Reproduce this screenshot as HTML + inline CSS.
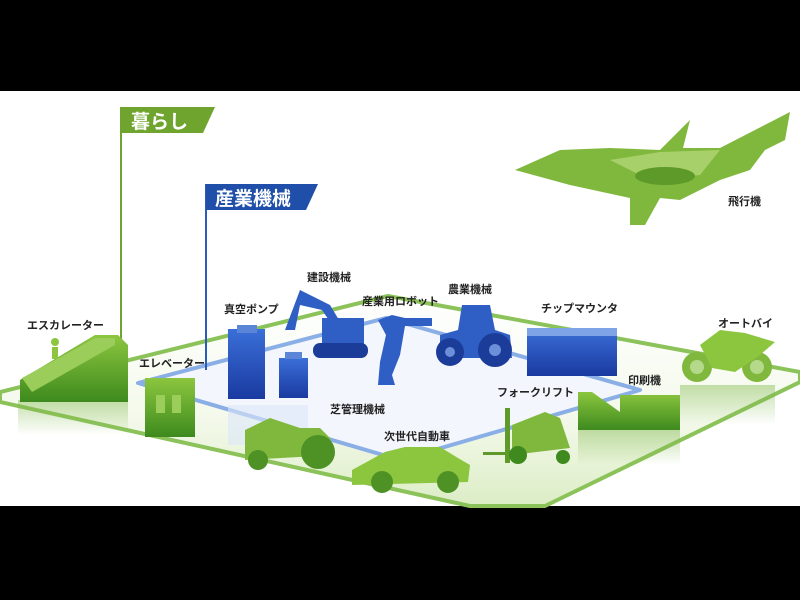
<!DOCTYPE html>
<html><head><meta charset="utf-8"><style>
html,body{margin:0;padding:0;width:800px;height:600px;overflow:hidden;background:#000}
svg text{font-family:"Liberation Sans","Noto Sans CJK JP",sans-serif;font-weight:bold}
</style></head><body>
<svg width="800" height="600" viewBox="0 0 800 600" xmlns="http://www.w3.org/2000/svg">
<defs>
<linearGradient id="gfloor" x1="0" y1="0" x2="0" y2="1">
<stop offset="0" stop-color="#ffffff"/><stop offset="0.6" stop-color="#f3f9ea"/><stop offset="1" stop-color="#dcedc5"/></linearGradient>
<linearGradient id="gg" x1="0" y1="0" x2="0" y2="1">
<stop offset="0" stop-color="#8cc63f"/><stop offset="1" stop-color="#3e8a1e"/></linearGradient>
<linearGradient id="bb" x1="0" y1="0" x2="0" y2="1">
<stop offset="0" stop-color="#3a6fd8"/><stop offset="1" stop-color="#1a3aa0"/></linearGradient>
<linearGradient id="refl" x1="0" y1="0" x2="0" y2="1">
<stop offset="0" stop-color="#7fb84a" stop-opacity="0.45"/><stop offset="1" stop-color="#7fb84a" stop-opacity="0"/></linearGradient>
</defs>
<rect x="0" y="0" width="800" height="91" fill="#000"/>
<rect x="0" y="91" width="800" height="415" fill="#fff"/>
<rect x="0" y="506" width="800" height="94" fill="#000"/>

<!-- green floor -->
<polygon points="0,392 388,296 800,372 800,382 545,506 470,506 0,402" fill="url(#gfloor)" stroke="#8cc25a" stroke-width="4" stroke-linejoin="round"/>
<!-- blue floor -->
<polygon points="138,383 386,318 640,390 400,460" fill="#f3f6fc" stroke="#8aaee6" stroke-width="4" stroke-linejoin="round"/>

<!-- banners -->
<line x1="121" y1="107" x2="121" y2="340" stroke="#6fa52f" stroke-width="2"/>
<polygon points="121,107 215,107 203,133 121,133" fill="#6fa52f"/>
<text x="131" y="128" font-size="19" fill="#fff" font-weight="normal">暮らし</text>
<line x1="206" y1="184" x2="206" y2="370" stroke="#2a5cb8" stroke-width="2"/>
<polygon points="206,184 318,184 306,210 206,210" fill="#1f4fa8"/>
<text x="215" y="205" font-size="19" fill="#fff" font-weight="normal">産業機械</text>

<!-- airplane -->
<polygon points="515,170 560,150 610,148 660,150 690,120 683,148 720,148 790,112 785,140 765,150 750,170 720,180 680,200 660,198 645,225 630,225 630,198 570,185" fill="#7fb83d"/>
<polygon points="610,160 660,152 720,150 700,175 650,180" fill="#a7d06a"/>
<ellipse cx="665" cy="176" rx="30" ry="9" fill="#5e9a2a"/>
<text x="728" y="205" font-size="11" fill="#222">飛行機</text>

<!-- escalator -->
<rect x="18" y="400" width="110" height="35" fill="url(#refl)"/>
<polygon points="20,380 95,335 118,335 128,345 128,402 20,402" fill="url(#gg)"/>
<polygon points="22,378 95,338 115,338 115,345 32,392" fill="#9acd5a"/>
<circle cx="55" cy="342" r="4" fill="#8cc63f"/><rect x="52" y="347" width="6" height="12" fill="#8cc63f"/>
<text x="27" y="329" font-size="11" fill="#222">エスカレーター</text>

<!-- elevator -->
<rect x="145" y="378" width="50" height="59" fill="url(#gg)"/>
<rect x="156" y="395" width="9" height="18" fill="#9acd5a"/><rect x="172" y="395" width="9" height="18" fill="#9acd5a"/>
<text x="139" y="367" font-size="11" fill="#222">エレベーター</text>

<!-- vacuum pumps -->
<rect x="228" y="329" width="37" height="70" fill="url(#bb)"/>
<rect x="237" y="325" width="20" height="8" fill="#5b86d8"/>
<rect x="279" y="358" width="29" height="40" fill="url(#bb)"/>
<rect x="285" y="352" width="17" height="7" fill="#5b86d8"/>
<rect x="228" y="405" width="80" height="40" fill="#dce6f8" opacity="0.6"/>
<text x="224" y="313" font-size="11" fill="#222">真空ポンプ</text>

<!-- excavator -->
<polygon points="285,330 300,290 330,305 345,330 337,332 322,310 300,305 295,330" fill="#2f5fc4"/>
<rect x="322" y="318" width="42" height="28" fill="#2f5fc4"/>
<rect x="313" y="343" width="55" height="15" rx="7" fill="#1c3c9a"/>
<text x="307" y="281" font-size="11" fill="#222">建設機械</text>

<!-- robot -->
<polygon points="378,320 392,315 405,318 432,318 432,326 405,326 400,355 392,375 395,385 378,385 380,362 386,335" fill="#2f5fc4"/>
<text x="362" y="305" font-size="11" fill="#222">産業用ロボット</text>

<!-- tractor -->
<polygon points="462,305 490,305 495,330 510,335 512,358 440,358 440,335 458,330" fill="#2f5fc4"/>
<circle cx="450" cy="352" r="14" fill="#1c3c9a"/><circle cx="495" cy="350" r="17" fill="#1c3c9a"/>
<circle cx="450" cy="352" r="5" fill="#6b8fd8"/><circle cx="495" cy="350" r="6" fill="#6b8fd8"/>
<text x="448" y="293" font-size="11" fill="#222">農業機械</text>

<!-- chip mounter -->
<rect x="527" y="328" width="90" height="48" fill="url(#bb)"/>
<rect x="527" y="328" width="90" height="8" fill="#7ea3e6"/>
<text x="541" y="312" font-size="11" fill="#222">チップマウンタ</text>

<!-- motorcycle -->
<circle cx="697" cy="367" r="15" fill="#7fb83d"/><circle cx="757" cy="367" r="15" fill="#7fb83d"/>
<circle cx="697" cy="367" r="7" fill="#b5d98a"/><circle cx="757" cy="367" r="7" fill="#b5d98a"/>
<polygon points="700,345 720,330 745,333 775,342 760,355 735,372 712,368" fill="#8cc63f"/>
<rect x="680" y="385" width="95" height="40" fill="url(#refl)"/>
<text x="718" y="327" font-size="11" fill="#222">オートバイ</text>

<!-- printer -->
<polygon points="578,392 592,392 620,412 620,395 680,395 680,430 578,430" fill="url(#gg)"/>
<rect x="578" y="430" width="102" height="35" fill="url(#refl)"/>
<text x="628" y="384" font-size="11" fill="#222">印刷機</text>

<!-- forklift -->
<rect x="505" y="408" width="5" height="55" fill="#5e9a2a"/>
<polygon points="512,425 545,412 560,418 570,448 512,455" fill="#7fb83d"/>
<rect x="483" y="452" width="30" height="3" fill="#5e9a2a"/>
<circle cx="518" cy="455" r="9" fill="#3e8a1e"/><circle cx="563" cy="457" r="7" fill="#3e8a1e"/>
<text x="497" y="396" font-size="11" fill="#222">フォークリフト</text>

<!-- lawn mower -->
<polygon points="245,430 270,418 300,428 320,428 330,438 335,455 245,460" fill="#7fb83d"/>
<circle cx="318" cy="452" r="17" fill="#4e9226"/>
<circle cx="258" cy="460" r="10" fill="#4e9226"/>
<text x="330" y="413" font-size="11" fill="#222">芝管理機械</text>

<!-- car -->
<polygon points="352,470 385,452 405,447 440,447 458,458 470,465 468,482 352,485" fill="#8cc63f"/>
<circle cx="382" cy="482" r="11" fill="#4e9226"/><circle cx="448" cy="482" r="11" fill="#4e9226"/>
<text x="384" y="440" font-size="11" fill="#222">次世代自動車</text>
</svg>
</body></html>
